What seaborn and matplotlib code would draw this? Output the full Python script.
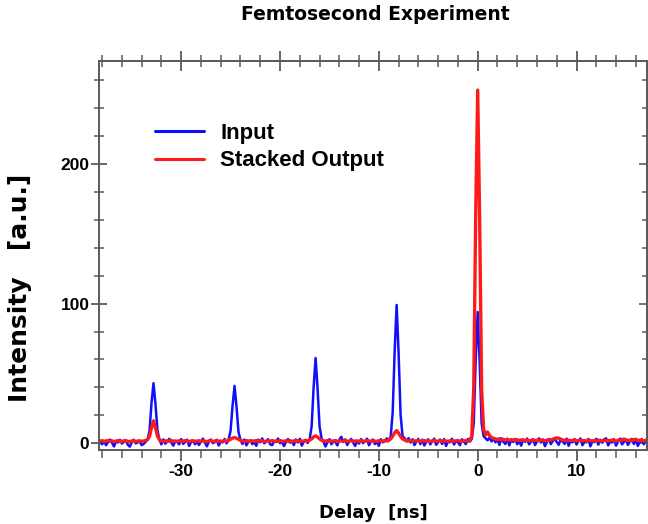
import numpy as np
import pandas as pd
import matplotlib
matplotlib.use("Agg")
import matplotlib.pyplot as plt
import seaborn as sns
from matplotlib.ticker import MultipleLocator, NullFormatter, FixedLocator

# ---------------- data ----------------
# delay sampling grid [ns], 0.2 ns steps from -38.2 to 17.2
delay = np.round(np.arange(-38.2, 17.21, 0.2), 1)

input_vals = [
    1.0, -0.8, 1.5, -1.5, 0.8, 2.6, 0.3, -2.4, 1.1, 0.5,
    2.4, -0.3, 0.9, 2.0, -1.1, -2.5, 0.7, 2.4, -0.2, 0.6,
    1.2, -1.4, -0.6, 1.0, 2.5, 9.0, 29.0, 43.0, 28.0, 9.0,
    2.5, -0.9, 2.7, -0.4, 1.2, 3.1, 0.5, -1.8, 1.3, 0.9,
    -0.9, 2.9, -0.5, 0.8, 2.5, -2.0, 0.6, 1.8, -0.8, 1.1,
    -1.3, 0.9, 3.2, 0.4, -2.3, 1.0, 2.6, 0.0, 0.7, 2.4,
    -1.7, 1.2, 0.5, 3.0, -0.2, 2.5, 9.0, 27.0, 41.0, 26.0,
    8.0, 2.2, -0.6, 2.6, -1.6, 1.1, 2.0, -0.7, 0.9, -1.9,
    2.5, 0.6, 3.4, -0.1, 1.0, 2.8, -0.8, -1.5, 1.3, 0.8,
    3.3, 0.0, 1.1, -2.1, 0.7, 2.9, 0.4, 1.2, -1.4, 2.6,
    0.5, 3.1, -1.8, 0.9, 2.4, 0.1, 3.0, 12.0, 40.0, 61.0,
    39.0, 12.0, 3.5, 1.0, -2.4, 0.6, 2.8, -0.8, 1.2, 0.9,
    -1.6, 2.5, 4.5, 0.8, 2.7, -1.3, 1.1, 3.0, 0.4, -2.0,
    1.3, -0.3, 2.9, 0.0, 1.2, 3.2, -1.5, 0.9, 2.6, -0.7,
    1.0, -1.9, 2.8, 0.6, 1.4, 3.4, 1.5, 5.0, 22.0, 66.0,
    99.0, 64.0, 20.0, 5.0, 3.5, 1.2, 3.6, 0.5, 2.8, -1.4,
    1.1, 3.0, -0.7, 2.5, -1.7, 0.9, 2.7, -0.9, 1.3, 3.2,
    -1.2, 0.8, 2.6, -0.6, 2.9, -2.0, 1.2, 0.6, 3.1, -1.0,
    1.4, 0.7, -1.5, 2.8, 1.0, -0.7, 3.0, 1.1, 3.0, 14.0,
    60.0, 94.0, 58.0, 14.0, 5.0, 3.5, 2.0, 4.0, 1.2, 3.4,
    0.6, 2.9, -1.3, 3.5, 1.0, -0.6, 3.2, -1.6, 2.5, 0.8,
    3.0, -0.8, 1.3, -1.8, 2.7, 0.9, 3.3, -0.9, 1.0, 2.8,
    -1.4, 1.2, 3.4, 0.5, 2.6, -2.2, 0.9, 3.0, -0.7, 1.4,
    3.6, 0.7, -1.2, 2.8, 1.1, -0.6, 3.2, -1.9, 1.3, 0.6,
    2.9, -1.0, 1.5, 3.3, -1.5, 1.0, 0.6, 3.0, -2.3, 1.2,
    0.8, 3.1, -1.1, 2.4, 0.3, 2.7, 3.4, -1.6, 1.0, 0.5,
    2.8, -1.8, 1.2, 3.2, -0.9, 0.9, 2.6, -1.3, 1.1, 3.0,
    -0.6, 2.5, -2.0, 0.8, 2.9, -0.8, 2.3, 0.7,
]

output_vals = [
    1.5, 1.8, 1.2, 1.6, 1.9, 1.3, 1.7, 1.1, 1.5, 1.8,
    1.4, 1.2, 1.7, 1.9, 1.3, 1.0, 1.6, 1.8, 1.2, 1.5,
    1.7, 1.3, 1.6, 1.9, 2.5, 5.0, 11.0, 16.0, 11.0, 5.0,
    2.4, 1.6, 1.4, 1.8, 1.2, 1.5, 1.9, 1.3, 1.6, 1.4,
    1.7, 1.2, 1.5, 1.9, 1.4, 1.1, 1.6, 1.8, 1.3, 1.5,
    1.8, 1.2, 1.6, 1.4, 1.0, 1.7, 1.9, 1.3, 1.5, 1.8,
    1.4, 1.6, 1.2, 1.9, 1.5, 2.0, 2.8, 3.6, 4.0, 3.5,
    2.7, 2.0, 1.6, 1.3, 1.8, 1.5, 1.2, 1.7, 1.4, 1.9,
    1.3, 1.6, 1.8, 1.1, 1.5, 1.7, 1.3, 1.9, 1.4, 1.6,
    1.2, 1.8, 1.5, 1.3, 1.7, 1.4, 1.9, 1.2, 1.6, 1.5,
    1.8, 1.3, 1.6, 1.4, 1.9, 1.5, 2.2, 3.0, 4.5, 5.2,
    4.4, 3.0, 2.1, 1.7, 1.4, 1.8, 1.3, 1.6, 1.5, 1.9,
    1.2, 1.7, 1.5, 1.4, 1.8, 1.3, 1.6, 1.9, 1.4, 1.5,
    1.7, 1.2, 1.8, 1.5, 1.3, 1.9, 1.6, 1.4, 1.7, 1.5,
    1.3, 1.8, 1.6, 1.4, 1.9, 1.5, 2.0, 3.0, 5.0, 7.5,
    9.0, 7.2, 4.8, 3.0, 2.3, 1.8, 1.6, 1.9, 1.4, 1.7,
    1.5, 1.8, 1.3, 1.6, 1.9, 1.4, 1.7, 1.2, 1.6, 1.8,
    1.4, 1.5, 1.9, 1.3, 1.7, 1.6, 1.2, 1.8, 1.5, 1.4,
    1.7, 1.9, 1.3, 1.6, 1.5, 1.8, 1.4, 2.0, 5.0, 40.0,
    165.0, 253.0, 160.0, 38.0, 10.0, 6.0, 8.0, 5.5, 4.0, 3.5,
    3.0, 2.6, 3.2, 2.4, 2.8, 2.2, 2.5, 2.0, 2.6, 2.3,
    2.1, 2.5, 1.9, 2.3, 2.0, 1.8, 2.2, 1.7, 2.0, 2.4,
    1.9, 2.1, 1.7, 2.3, 2.0, 1.8, 2.2, 1.9, 2.4, 2.8,
    3.4, 3.8, 3.5, 2.9, 2.3, 2.0, 1.8, 2.1, 1.7, 1.9,
    2.2, 1.8, 1.6, 2.0, 1.7, 1.9, 1.5, 2.1, 1.8, 1.6,
    1.9, 1.7, 2.2, 1.5, 1.8, 2.0, 1.6, 1.9, 1.7, 2.3,
    1.8, 1.5, 2.1, 1.9, 2.6, 2.9, 2.4, 1.8, 2.2, 1.7,
    2.5, 2.8, 2.0, 1.9, 2.3, 1.6, 2.0, 2.4,
]

series_labels = ["Input", "Stacked Output"]
x_major_ticks = [-30, -20, -10, 0, 10]
y_major_ticks = [0, 100, 200]

# ---------------- style ----------------
sns.set_style("white")
plt.rcParams["font.family"] = ["Liberation Sans", "DejaVu Sans"]
plt.rcParams["font.weight"] = "bold"
plt.rcParams["text.color"] = "black"
plt.rcParams["axes.labelcolor"] = "black"
plt.rcParams["axes.unicode_minus"] = False

fig = plt.figure(figsize=(6.48, 5.24), dpi=100)
ax = fig.add_axes([0.153, 0.141, 0.845, 0.743])

df = pd.DataFrame({"delay": delay, "Input": input_vals, "Stacked Output": output_vals})
sns.lineplot(data=df, x="delay", y="Input", color="#1010ff", lw=1.8,
             label=series_labels[0], ax=ax, sort=False)
sns.lineplot(data=df, x="delay", y="Stacked Output", color="#ff1a1a", lw=2.4,
             label=series_labels[1], ax=ax, sort=False)

ax.set_xlim(-38.3, 17.1)
ax.set_ylim(-5, 274)

spine_col = "#5a5a5a"
for s in ax.spines.values():
    s.set_visible(True)
    s.set_color(spine_col)
    s.set_linewidth(1.4)

ax.xaxis.set_major_locator(FixedLocator(x_major_ticks))
ax.xaxis.set_minor_locator(MultipleLocator(2))
ax.yaxis.set_major_locator(FixedLocator(y_major_ticks))
ax.yaxis.set_minor_locator(MultipleLocator(20))

ax.tick_params(axis="x", which="major", direction="out", length=8, width=1.3,
               color=spine_col, labelcolor="black", labelsize=12.5, pad=2, bottom=True)
ax.tick_params(axis="x", which="minor", direction="out", length=6, width=1.1,
               color=spine_col, bottom=True)
ax.tick_params(axis="y", which="major", direction="inout", length=12, width=1.3,
               color=spine_col, labelcolor="black", labelsize=12.5, pad=1, left=True)
ax.tick_params(axis="y", which="minor", direction="inout", length=7.5, width=1.1,
               color=spine_col, left=True)
for lab in ax.get_xticklabels() + ax.get_yticklabels():
    lab.set_fontweight("bold")

# top axis: ticks crossing the spine, no labels
top = ax.secondary_xaxis("top")
top.xaxis.set_major_locator(FixedLocator(x_major_ticks))
top.xaxis.set_minor_locator(MultipleLocator(2))
top.xaxis.set_major_formatter(NullFormatter())
top.tick_params(which="major", direction="inout", length=14, width=1.3, color=spine_col)
top.tick_params(which="minor", direction="inout", length=8.5, width=1.1, color=spine_col)
top.spines["top"].set_color(spine_col)
top.spines["top"].set_linewidth(1.4)

# right axis: small inward ticks
right = ax.secondary_yaxis("right")
right.yaxis.set_major_locator(FixedLocator(y_major_ticks))
right.yaxis.set_minor_locator(MultipleLocator(20))
right.yaxis.set_major_formatter(NullFormatter())
right.tick_params(which="major", direction="in", length=6, width=1.2, color=spine_col)
right.tick_params(which="minor", direction="in", length=3.5, width=1.1, color=spine_col)
right.spines["right"].set_color(spine_col)

label_family = ["DejaVu Sans"]
ax.set_xlabel("Delay  [ns]", fontsize=13, fontweight="bold", family=label_family)
ax.xaxis.set_label_coords(0.5, -0.139)
ax.set_ylabel("Intensity   [a.u.]", fontsize=18, fontweight="bold", family=label_family)
ax.yaxis.set_label_coords(-0.123, 0.416)

fig.text(0.579, 0.972, "Femtosecond Experiment", ha="center", va="center",
         fontsize=13.5, fontweight="bold", family=label_family)

leg = ax.legend(loc="upper left", bbox_to_anchor=(0.066, 0.892), frameon=False,
                fontsize=16, handlelength=2.2, handletextpad=0.72, labelspacing=0.3)
for line in leg.get_lines():
    line.set_linewidth(2.2)
for t in leg.get_texts():
    t.set_fontweight("bold")
    t.set_color("black")

fig.savefig("out.png", dpi=100)
